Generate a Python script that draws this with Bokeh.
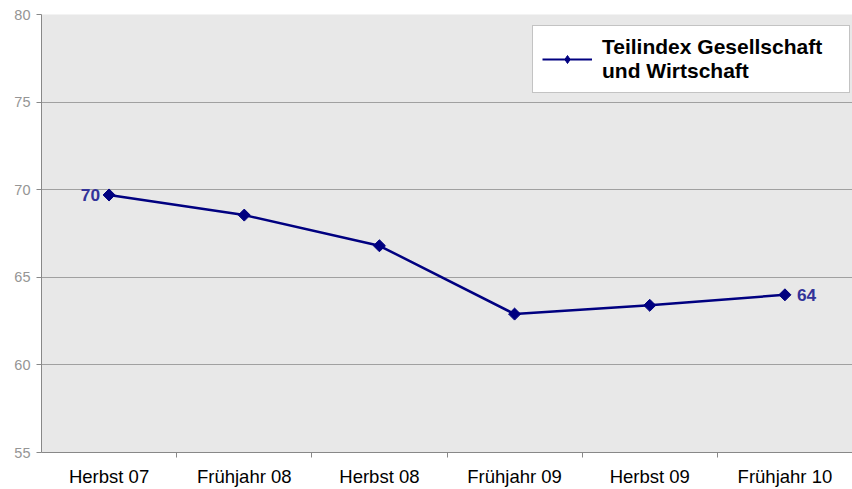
from bokeh.plotting import figure
from bokeh.models import FixedTicker, Legend, LegendItem, ColumnDataSource, CDSView, IndexFilter
from bokeh.core.properties import value
from bokeh.embed import file_html
from bokeh.resources import INLINE

categories = ["Herbst 07", "Frühjahr 08", "Herbst 08", "Frühjahr 09", "Herbst 09", "Frühjahr 10"]
values = [69.7, 68.55, 66.8, 62.9, 63.4, 64.0]
y_ticks = [55, 60, 65, 70, 75, 80]
series_name = "Teilindex Gesellschaft\nund Wirtschaft"

xs = [i + 0.5 for i in range(len(categories))]

p = figure(width=852, height=489, x_range=(0, len(categories)), y_range=(55, 80),
           output_backend="svg", toolbar_location=None,
           min_border_left=41, min_border_top=14, min_border_right=0, min_border_bottom=37)
p.background_fill_color = "#E8E8E8"
p.border_fill_color = "white"
p.outline_line_color = None

# axes
p.xaxis.ticker = FixedTicker(ticks=xs, minor_ticks=list(range(1, len(categories))))
p.xaxis.major_label_overrides = {x: c for x, c in zip(xs, categories)}
p.xaxis.major_tick_out = 0
p.xaxis.major_tick_in = 0
p.xaxis.minor_tick_out = 5
p.xaxis.minor_tick_in = 0
p.xaxis.minor_tick_line_color = "#888888"
p.xaxis.axis_line_color = "#888888"
p.xaxis.major_label_text_font = "Liberation Sans"
p.xaxis.major_label_text_font_size = "18.5px"
p.xaxis.major_label_text_color = "black"
p.xaxis.major_label_standoff = 8

p.yaxis.ticker = FixedTicker(ticks=y_ticks)
p.yaxis.major_tick_out = 5
p.yaxis.major_tick_in = 0
p.yaxis.minor_tick_line_color = None
p.yaxis.major_tick_line_color = "#888888"
p.yaxis.axis_line_color = "#888888"
p.yaxis.major_label_text_font = "Liberation Sans"
p.yaxis.major_label_text_font_size = "14.5px"
p.yaxis.major_label_text_color = "#959595"
p.yaxis.major_label_standoff = 6

p.xgrid.grid_line_color = None
p.ygrid.ticker = FixedTicker(ticks=y_ticks)
p.ygrid.grid_line_color = "#A0A0A0"
p.ygrid.grid_line_width = 1

src = ColumnDataSource(dict(x=xs, y=values))

# legend proxies (hidden beneath the real first marker)
one_view = CDSView(filter=IndexFilter(indices=[0]))
lg_line = p.line("x", "y", source=src, view=one_view, line_color="#000080", line_width=2)
lg_mark = p.scatter("x", "y", source=src, view=one_view, marker="diamond", size=11,
                    fill_color="#000080", line_color="#000080")

ln = p.line("x", "y", source=src, line_color="#000080", line_width=2.5)
mk = p.scatter("x", "y", source=src, marker="square", angle=0.785398, size=8.5,
               fill_color="#000080", line_color="#000080")

# data labels: first and last
first = ColumnDataSource(dict(x=[xs[0]], y=[values[0]], t=[str(round(values[0]))]))
last = ColumnDataSource(dict(x=[xs[-1]], y=[values[-1]], t=[str(round(values[-1]))]))
p.text("x", "y", text="t", source=first, x_offset=-9, text_align="right",
       text_baseline="middle", text_font=value("Liberation Sans"),
       text_font_style="bold", text_font_size="17.3px", text_color="#333399")
p.text("x", "y", text="t", source=last, x_offset=12, text_align="left",
       text_baseline="middle", text_font=value("Liberation Sans"),
       text_font_style="bold", text_font_size="17.3px", text_color="#333399")

legend = Legend(items=[LegendItem(label=series_name, renderers=[lg_line, lg_mark])],
                location=(491, 359))
legend.label_text_font = "Liberation Sans"
legend.label_text_font_style = "bold"
legend.label_text_font_size = "21px"
legend.label_text_color = "black"
legend.border_line_color = "#888888"
legend.border_line_width = 1
legend.background_fill_color = "white"
legend.background_fill_alpha = 1
legend.glyph_width = 50
legend.padding = 9
legend.margin = 0
legend.label_standoff = 10
legend.label_width = 238
p.add_layout(legend)

open("out.html", "w").write(file_html(p, INLINE))
